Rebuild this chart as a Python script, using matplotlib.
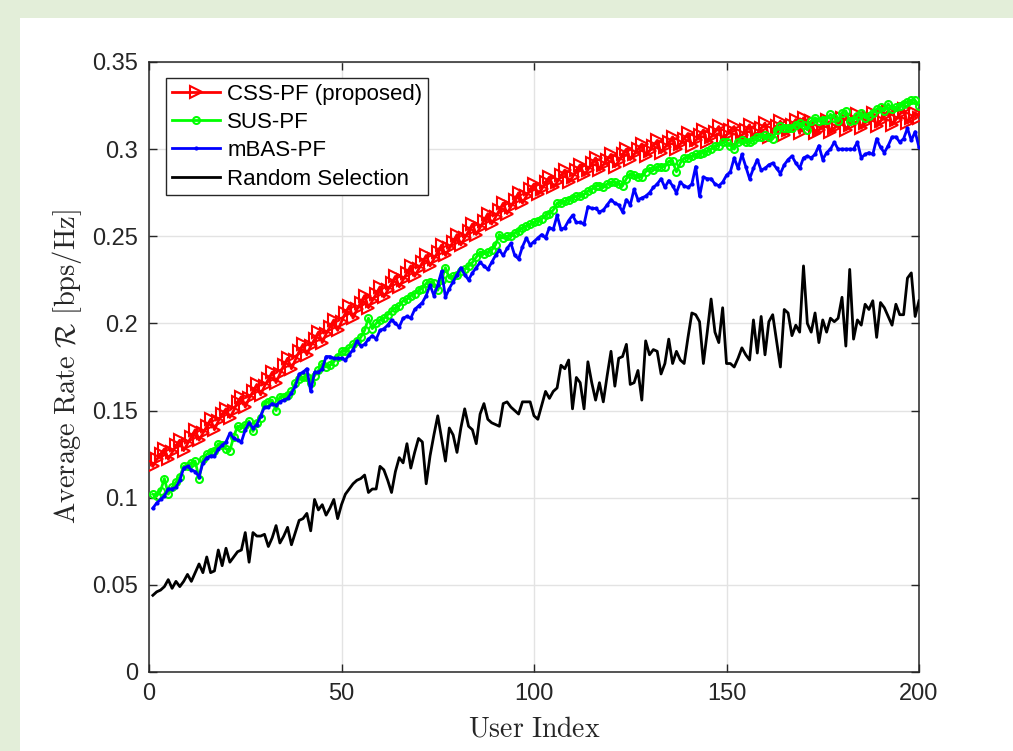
import numpy as np
import matplotlib
matplotlib.use("Agg")
import matplotlib.pyplot as plt
from matplotlib.patches import Rectangle

user_index = list(range(1, 201))

css_pf = [
0.118,0.122,0.125,0.128,0.122,0.126,0.130,0.133,0.127,0.131,
0.135,0.139,0.133,0.137,0.141,0.145,0.139,0.144,0.148,0.151,
0.146,0.150,0.155,0.158,0.152,0.157,0.161,0.165,0.159,0.164,
0.168,0.172,0.166,0.171,0.176,0.180,0.174,0.179,0.184,0.188,
0.182,0.187,0.191,0.195,0.189,0.194,0.198,0.202,0.196,0.201,
0.206,0.210,0.203,0.208,0.212,0.216,0.209,0.213,0.217,0.221,
0.215,0.219,0.223,0.227,0.221,0.225,0.229,0.233,0.227,0.231,
0.235,0.239,0.233,0.237,0.241,0.245,0.239,0.243,0.247,0.251,
0.245,0.249,0.253,0.257,0.251,0.255,0.259,0.263,0.257,0.261,
0.265,0.269,0.263,0.267,0.271,0.275,0.269,0.273,0.277,0.280,
0.274,0.277,0.281,0.284,0.278,0.281,0.285,0.288,0.281,0.284,
0.288,0.291,0.285,0.288,0.292,0.295,0.288,0.291,0.294,0.297,
0.290,0.293,0.297,0.300,0.294,0.297,0.300,0.303,0.296,0.299,
0.302,0.305,0.298,0.301,0.304,0.307,0.300,0.303,0.306,0.309,
0.302,0.305,0.308,0.311,0.304,0.307,0.310,0.313,0.305,0.308,
0.311,0.313,0.306,0.308,0.311,0.314,0.307,0.309,0.312,0.315,
0.307,0.310,0.313,0.316,0.308,0.311,0.314,0.317,0.309,0.318,
0.314,0.316,0.309,0.311,0.314,0.317,0.310,0.312,0.315,0.318,
0.311,0.314,0.317,0.320,0.312,0.315,0.318,0.321,0.313,0.316,
0.319,0.322,0.314,0.317,0.320,0.323,0.315,0.318,0.321,0.318]

sus_pf = [
0.102,0.101,0.104,0.111,0.102,0.106,0.109,0.112,0.118,0.118,
0.120,0.121,0.111,0.122,0.125,0.126,0.127,0.131,0.130,0.128,
0.127,0.135,0.141,0.140,0.142,0.144,0.138,0.143,0.146,0.154,
0.155,0.156,0.150,0.158,0.158,0.159,0.161,0.166,0.168,0.169,
0.169,0.166,0.170,0.173,0.177,0.175,0.176,0.178,0.181,0.184,
0.184,0.186,0.188,0.190,0.192,0.196,0.203,0.197,0.200,0.202,
0.203,0.205,0.207,0.209,0.210,0.213,0.214,0.216,0.217,0.219,
0.220,0.223,0.224,0.223,0.219,0.225,0.232,0.226,0.227,0.228,
0.230,0.231,0.233,0.235,0.238,0.241,0.240,0.241,0.242,0.245,
0.251,0.249,0.250,0.250,0.252,0.253,0.255,0.256,0.257,0.258,
0.259,0.260,0.262,0.263,0.265,0.269,0.269,0.270,0.271,0.272,
0.273,0.273,0.274,0.276,0.277,0.279,0.279,0.278,0.280,0.281,
0.281,0.280,0.279,0.283,0.286,0.285,0.284,0.284,0.287,0.289,
0.288,0.290,0.290,0.290,0.293,0.293,0.287,0.292,0.295,0.295,
0.296,0.297,0.297,0.298,0.299,0.300,0.302,0.302,0.304,0.304,
0.302,0.300,0.304,0.305,0.304,0.304,0.305,0.307,0.307,0.308,
0.307,0.306,0.311,0.313,0.312,0.312,0.312,0.314,0.315,0.314,
0.311,0.316,0.318,0.316,0.317,0.317,0.320,0.318,0.316,0.321,
0.322,0.316,0.317,0.319,0.321,0.318,0.319,0.321,0.323,0.324,
0.322,0.326,0.323,0.324,0.325,0.326,0.327,0.328,0.328,0.325]

mbas_pf = [
0.094,0.097,0.099,0.101,0.105,0.105,0.106,0.110,0.117,0.118,
0.116,0.115,0.112,0.120,0.123,0.124,0.124,0.128,0.130,0.132,
0.137,0.134,0.133,0.132,0.139,0.143,0.140,0.142,0.147,0.152,
0.152,0.154,0.153,0.155,0.156,0.157,0.160,0.164,0.171,0.172,
0.174,0.161,0.172,0.172,0.174,0.181,0.181,0.180,0.180,0.180,
0.179,0.182,0.185,0.190,0.187,0.188,0.191,0.193,0.191,0.196,
0.197,0.199,0.202,0.200,0.198,0.203,0.204,0.203,0.208,0.210,
0.212,0.216,0.222,0.216,0.222,0.230,0.215,0.220,0.224,0.228,
0.232,0.228,0.225,0.229,0.232,0.235,0.233,0.231,0.235,0.239,
0.242,0.239,0.243,0.246,0.239,0.237,0.244,0.249,0.245,0.247,
0.249,0.251,0.249,0.255,0.254,0.262,0.254,0.255,0.259,0.262,
0.258,0.258,0.257,0.267,0.266,0.266,0.264,0.265,0.268,0.271,
0.269,0.268,0.264,0.271,0.268,0.277,0.271,0.272,0.273,0.275,
0.278,0.280,0.283,0.278,0.282,0.279,0.275,0.281,0.279,0.278,
0.280,0.290,0.273,0.284,0.283,0.283,0.280,0.279,0.281,0.285,
0.287,0.295,0.289,0.297,0.290,0.283,0.289,0.294,0.288,0.289,
0.291,0.292,0.289,0.286,0.291,0.294,0.296,0.292,0.289,0.295,
0.296,0.295,0.297,0.302,0.294,0.298,0.300,0.304,0.300,0.300,
0.300,0.300,0.300,0.304,0.295,0.297,0.298,0.297,0.306,0.301,
0.298,0.302,0.307,0.307,0.304,0.306,0.312,0.305,0.310,0.301]

random_sel = [
0.044,0.046,0.047,0.049,0.053,0.048,0.052,0.049,0.052,0.056,
0.052,0.057,0.062,0.057,0.066,0.057,0.058,0.070,0.061,0.071,
0.063,0.066,0.069,0.070,0.080,0.063,0.080,0.078,0.078,0.079,
0.072,0.077,0.084,0.074,0.078,0.083,0.073,0.080,0.087,0.088,
0.091,0.081,0.099,0.093,0.096,0.090,0.094,0.099,0.088,0.096,
0.102,0.105,0.108,0.110,0.111,0.113,0.103,0.105,0.105,0.118,
0.116,0.110,0.103,0.115,0.123,0.120,0.131,0.117,0.126,0.134,
0.132,0.108,0.124,0.136,0.147,0.134,0.121,0.140,0.136,0.126,
0.140,0.151,0.141,0.139,0.131,0.148,0.154,0.145,0.143,0.142,
0.141,0.154,0.155,0.152,0.150,0.148,0.155,0.155,0.155,0.147,
0.145,0.153,0.161,0.157,0.161,0.163,0.176,0.174,0.179,0.151,
0.169,0.166,0.151,0.178,0.166,0.156,0.166,0.155,0.170,0.184,
0.164,0.180,0.181,0.188,0.165,0.166,0.173,0.156,0.190,0.182,
0.185,0.184,0.171,0.177,0.191,0.177,0.184,0.179,0.177,0.192,
0.206,0.205,0.201,0.177,0.195,0.214,0.195,0.189,0.209,0.177,
0.177,0.175,0.180,0.186,0.182,0.179,0.202,0.183,0.204,0.182,
0.201,0.205,0.190,0.175,0.208,0.206,0.193,0.199,0.195,0.233,
0.200,0.195,0.206,0.189,0.202,0.195,0.203,0.201,0.203,0.215,
0.187,0.231,0.191,0.202,0.199,0.211,0.208,0.213,0.192,0.212,
0.209,0.204,0.199,0.211,0.205,0.205,0.226,0.229,0.204,0.213]

series_labels = ["CSS-PF (proposed)", "SUS-PF", "mBAS-PF", "Random Selection"]
x_ticks = [0, 50, 100, 150, 200]
y_ticks = [0, 0.05, 0.1, 0.15, 0.2, 0.25, 0.3, 0.35]
y_tick_labels = ["0", "0.05", "0.1", "0.15", "0.2", "0.25", "0.3", "0.35"]

plt.rcParams['mathtext.fontset'] = 'cm'
plt.rcParams['font.family'] = ['Liberation Sans', 'DejaVu Sans']

W, H = 1013, 751
fig = plt.figure(figsize=(W / 100, H / 100), dpi=100, facecolor='#e3eed9')
bg = Rectangle((20 / W, 0), 1 - 20 / W, 1 - 18 / H, transform=fig.transFigure,
               facecolor='white', edgecolor='none', zorder=-10)
fig.add_artist(bg)

ax = fig.add_axes([149 / W, 1 - 672 / H, 770 / W, 610 / H], zorder=1)

ax.plot(user_index, css_pf, color=(1, 0, 0), lw=2, marker='>', markersize=9,
        markerfacecolor='none', markeredgewidth=1.5, label=series_labels[0], zorder=3)
ax.plot(user_index, sus_pf, color=(0, 1, 0), lw=2, marker='o', markersize=5,
        markerfacecolor='none', markeredgewidth=1.5, label=series_labels[1], zorder=4)
ax.plot(user_index, mbas_pf, color=(0, 0, 1), lw=2, marker='.', markersize=4,
        label=series_labels[2], zorder=5)
ax.plot(user_index, random_sel, color='black', lw=2, label=series_labels[3], zorder=6)

ax.set_xlim(0, 200)
ax.set_ylim(0, 0.35)
ax.set_xticks(x_ticks)
ax.set_yticks(y_ticks)
ax.set_yticklabels(y_tick_labels)
ax.grid(True, color='#e3e3e3', lw=1.0)
ax.set_axisbelow(True)
ax.tick_params(direction='in', length=6, width=1, top=True, right=True,
               labelsize=17, colors='#262626', pad=8)
for s in ax.spines.values():
    s.set_color('#262626')
    s.set_linewidth(1.1)

ax.set_xlabel(r'$\mathrm{User\ Index}$', fontsize=20, color='#262626', labelpad=8)
ax.set_ylabel(r'$\mathrm{Average\ Rate}\ \mathcal{R}\ \mathrm{[bps/Hz]}$', fontsize=20.5,
              color='#262626', labelpad=6)

leg = ax.legend(loc='upper left', bbox_to_anchor=(17 / 770, 1 - 16 / 610), borderaxespad=0,
                fontsize=16, frameon=True, fancybox=False, handlelength=2.2,
                handletextpad=0.3, borderpad=0.25, labelspacing=0.33)
leg.get_frame().set_edgecolor('#262626')
leg.get_frame().set_linewidth(1.0)
leg.get_frame().set_alpha(1)

fig.savefig('out.png', dpi=100, facecolor=fig.get_facecolor())
